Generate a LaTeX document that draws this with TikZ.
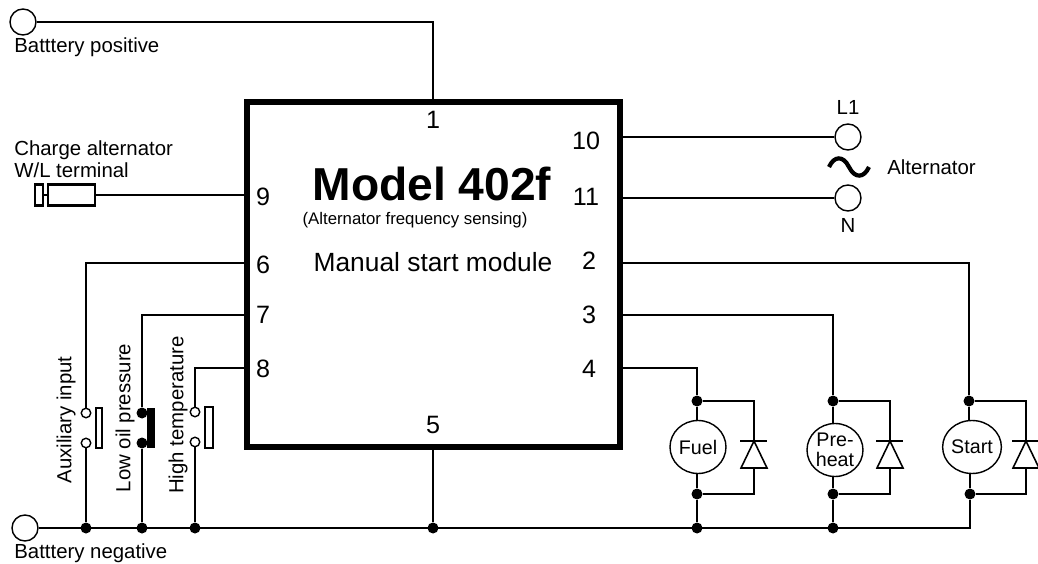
\documentclass[tikz,border=0pt]{standalone}
\usepackage{fontspec}
\setmainfont{Liberation Sans}
\usetikzlibrary{shapes,positioning,calc}
\tikzset{
    wire/.style={line width=1.15pt},
    thinwire/.style={line width=0.7pt},
    term/.style={circle,draw,line width=0.8pt,fill=white,minimum size=0.52cm,inner sep=0pt},
    contact/.style={circle,draw,line width=0.8pt,fill=white,minimum size=0.19cm,inner sep=0pt},
    dot/.style={circle,fill=black,minimum size=0.22cm,inner sep=0pt},
    coil/.style={ellipse,draw,line width=0.8pt,fill=white,minimum width=1.12cm,minimum height=1.06cm,inner sep=0pt,align=center,font=\fontsize{11.2}{11.6}\selectfont},
    part/.style={rectangle,draw,line width=1.15pt,fill=white,inner sep=0pt},
    lbl/.style={inner sep=0pt,font=\fontsize{11.6}{12.2}\selectfont},
    pin/.style={inner sep=0pt,font=\fontsize{14.3}{16}\selectfont}
}
\begin{document}
\begin{tikzpicture}[x=0.02cm,y=-0.02cm]
    \clip (0,0) rectangle (1038,564);
    \fill[white] (0,0) rectangle (1038,564);

    % Module
    \node[draw,line width=3.4pt,minimum width=7.46cm,minimum height=6.9cm,inner sep=0pt] (module) at (433.5,274.5) {};
    \node[inner sep=0pt,font=\fontsize{26.3}{30}\selectfont\bfseries] (title) at (432,184) {Model 402f};
    \node[lbl,font=\fontsize{9.55}{11}\selectfont] (sensing) at (415,220) {(Alternator frequency sensing)};
    \node[inner sep=0pt,font=\fontsize{15}{18}\selectfont] (manual) at (433,262) {Manual start module};

    % Pin numbers
    \node[pin] (n1) at (433,120) {1};
    \node[pin] (n5) at (433,425) {5};
    \node[pin] (n9) at (263,197) {9};
    \node[pin] (n6) at (263,265) {6};
    \node[pin] (n7) at (263,315) {7};
    \node[pin] (n8) at (263,369) {8};
    \node[pin] (n10) at (586,141) {10};
    \node[pin] (n11) at (586,197) {11};
    \node[pin] (n2) at (589,261) {2};
    \node[pin] (n3) at (589,315) {3};
    \node[pin] (n4) at (589,369) {4};

    % Where the wires meet the module
    \coordinate (p1) at (433,102);
    \coordinate (p5) at (433,447);
    \coordinate (p9) at (247,195);
    \coordinate (p6) at (247,263);
    \coordinate (p7) at (247,315);
    \coordinate (p8) at (247,368);
    \coordinate (p10) at (620,137);
    \coordinate (p11) at (620,198);
    \coordinate (p2) at (620,263);
    \coordinate (p3) at (620,315);
    \coordinate (p4) at (620,368);

    % Battery
    \node[term] (batpos) at (23,22) {};
    \node[term] (batneg) at (25,528) {};
    \node[lbl,anchor=west] (batposlabel) at (14,47) {Batttery positive};
    \node[lbl,anchor=west] (batneglabel) at (14,553) {Batttery negative};
    \draw[wire] (batpos) -| (p1);

    % Charge alternator
    \node[lbl,anchor=west,align=left] (chargelabel) at (14,159) {Charge alternator\\W/L terminal};
    \node[part,minimum width=0.94cm,minimum height=0.42cm] (chargebody) at (71.5,195) {};
    \node[part,minimum width=0.16cm,minimum height=0.42cm] (chargetip) at (39,195) {};
    \draw[wire] (chargetip) -- (chargebody);
    \draw[wire] (chargebody) -- (p9);

    % Alternator
    \node[term] (l1) at (848,137) {};
    \node[term] (neutral) at (848,198) {};
    \node[lbl] (l1label) at (848,107) {L1};
    \node[lbl] (nlabel) at (848,225) {N};
    \node[lbl,anchor=west] (altlabel) at (887,167) {Alternator};
    \draw[wire] (p10) -- (l1);
    \draw[wire] (p11) -- (neutral);
    \draw[line width=2.4pt] (829,167) .. controls (834,156) and (843,155) .. (849,167) .. controls (855,179) and (864,178) .. (869,167);

    % Input switches
    \node[contact] (auxtop) at (86,413) {};
    \node[contact] (auxbot) at (86,443) {};
    \node[part,line width=0.9pt,minimum width=0.13cm,minimum height=0.8cm] (auxbar) at (99,428) {};
    \node[dot] (oiltop) at (142,413) {};
    \node[dot] (oilbot) at (142,443) {};
    \node[rectangle,fill=black,minimum width=0.17cm,minimum height=0.82cm,inner sep=0pt] (oilbar) at (151,428) {};
    \node[contact] (temptop) at (195,412) {};
    \node[contact] (tempbot) at (195,442) {};
    \node[part,line width=0.9pt,minimum width=0.15cm,minimum height=0.82cm] (tempbar) at (209,427.5) {};
    \node[lbl,rotate=90] (auxlabel) at (66,420) {Auxiliary input};
    \node[lbl,rotate=90] (oillabel) at (125,418) {Low oil pressure};
    \node[lbl,rotate=90] (templabel) at (178,415) {High temperature};

    % Negative bus
    \node[dot] (busaux) at (86,528) {};
    \node[dot] (busoil) at (142,528) {};
    \node[dot] (bustemp) at (195,528) {};
    \node[dot] (busmod) at (433,528) {};
    \node[dot] (busfuel) at (697,528) {};
    \node[dot] (busheat) at (833,528) {};

    \draw[wire] (p6) -| (auxtop);
    \draw[wire] (auxbot) -- (busaux);
    \draw[wire] (p7) -| (oiltop);
    \draw[wire] (oilbot) -- (busoil);
    \draw[wire] (p8) -| (temptop);
    \draw[wire] (tempbot) -- (bustemp);
    \draw[wire] (p5) -- (busmod);

    % Fuel
    \node[dot] (fueltop) at (697,401) {};
    \node[dot] (fuelbot) at (697,494) {};
    \node[coil] (fuel) at (698,447) {Fuel};
    \coordinate (fuelbar) at (754,441);
    \coordinate (fuelbase) at (754,468);
    \draw[wire] (p4) -| (fueltop);
    \draw[wire] (fueltop) -- (fueltop|-fuel.north);
    \draw[wire] (fuelbot) -- (fuelbot|-fuel.south);
    \draw[wire] (fuelbot) -- (busfuel);
    \draw[wire] (fueltop) -| (fuelbar);
    \draw[wire] (fuelbot) -| (fuelbase);
    \draw[line width=0.9pt] (fuelbar) -- ++(-13,27) -- ++(26,0) -- cycle;
    \draw[wire] ($(fuelbar)+(-14,0)$) -- ($(fuelbar)+(13,0)$);

    % Pre-heat
    \node[dot] (heattop) at (833,401) {};
    \node[dot] (heatbot) at (833,494) {};
    \node[coil] (heat) at (835,450) {Pre-\\heat};
    \coordinate (heatbar) at (890,441);
    \coordinate (heatbase) at (890,468);
    \draw[wire] (p3) -| (heattop);
    \draw[wire] (heattop) -- (heattop|-heat.north);
    \draw[wire] (heatbot) -- (heatbot|-heat.south);
    \draw[wire] (heatbot) -- (busheat);
    \draw[wire] (heattop) -| (heatbar);
    \draw[wire] (heatbot) -| (heatbase);
    \draw[line width=0.9pt] (heatbar) -- ++(-13,27) -- ++(26,0) -- cycle;
    \draw[wire] ($(heatbar)+(-14,0)$) -- ($(heatbar)+(13,0)$);

    % Start
    \node[dot] (starttop) at (969,401) {};
    \node[dot] (startbot) at (970,494) {};
    \node[coil] (start) at (972,447) {Start};
    \coordinate (startbar) at (1026,441);
    \coordinate (startbase) at (1026,468);
    \draw[thinwire] (p2) -| (starttop);
    \draw[wire] (starttop) -- (starttop|-start.north);
    \draw[wire] (startbot) -- (startbot|-start.south);
    \draw[wire] (starttop) -| (startbar);
    \draw[wire] (startbot) -| (startbase);
    \draw[line width=0.9pt] (startbar) -- ++(-13,27) -- ++(26,0) -- cycle;
    \draw[wire] ($(startbar)+(-14,0)$) -- ($(startbar)+(14,0)$);

    \draw[wire] (batneg) -| (startbot);
\end{tikzpicture}
\end{document}
